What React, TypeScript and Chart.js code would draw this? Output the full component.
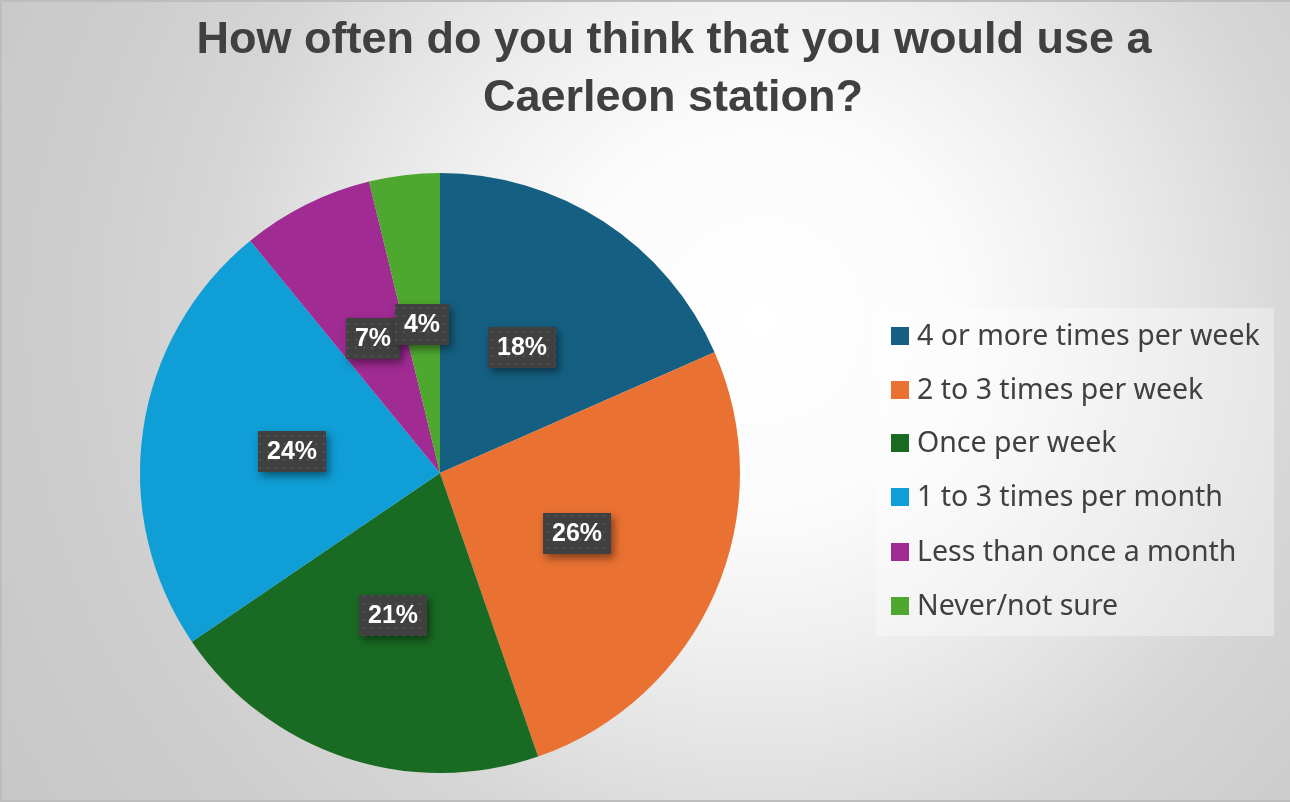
import React, { useEffect, useRef } from "react";
import { Chart, registerables } from "chart.js";

Chart.register(...registerables);

const TITLE_LINES = ["How often do you think that you would use a", "Caerleon station?"];
const CATEGORIES = [
  "4 or more times per week",
  "2 to 3 times per week",
  "Once per week",
  "1 to 3 times per month",
  "Less than once a month",
  "Never/not sure",
];
const VALUES = [18.4, 26.3, 20.8, 23.6, 7.1, 3.8];
const COLORS = ["#156082", "#E97132", "#196B24", "#0F9ED5", "#A02B93", "#4EA72E"];

const W = 1290;
const H = 802;
const TEXT_COLOR = "#404040";

function makePattern(ctx: CanvasRenderingContext2D) {
  const c = document.createElement("canvas");
  c.width = 8;
  c.height = 8;
  const p = c.getContext("2d")!;
  p.fillStyle = "#404040";
  p.fillRect(0, 0, 8, 8);
  p.fillStyle = "#525252";
  p.fillRect(3, 3, 2, 2);
  return ctx.createPattern(c, "repeat")!;
}

const decorPlugin = {
  id: "decor",
  beforeDraw(chart: any) {
    const ctx: CanvasRenderingContext2D = chart.ctx;
    ctx.save();
    const g = ctx.createRadialGradient(760, 320, 0, 760, 320, 900);
    g.addColorStop(0, "#ffffff");
    g.addColorStop(200 / 900, "#fbfbfb");
    g.addColorStop(330 / 900, "#efefef");
    g.addColorStop(430 / 900, "#e4e4e4");
    g.addColorStop(550 / 900, "#d6d6d6");
    g.addColorStop(700 / 900, "#cdcdcd");
    g.addColorStop(1, "#c7c7c7");
    ctx.fillStyle = g;
    ctx.fillRect(0, 0, W, H);
    ctx.restore();
  },
  afterDatasetsDraw(chart: any) {
    const ctx: CanvasRenderingContext2D = chart.ctx;
    const meta = chart.getDatasetMeta(0);
    const data: number[] = chart.data.datasets[0].data;
    const total = data.reduce((a, b) => a + b, 0);
    const pattern = makePattern(ctx);
    ctx.save();
    ctx.font = "bold 25px 'Liberation Sans', Arial, sans-serif";
    meta.data.forEach((arc: any, i: number) => {
      const { x, y } = arc.getCenterPoint();
      const txt = Math.round((data[i] / total) * 100) + "%";
      const tw = ctx.measureText(txt).width;
      const bw = Math.round(tw + 18);
      const bh = 41;
      const bx = Math.round(x - bw / 2);
      const by = Math.round(y - bh / 2);
      ctx.save();
      ctx.shadowColor = "rgba(0,0,0,0.45)";
      ctx.shadowBlur = 8;
      ctx.shadowOffsetX = 3;
      ctx.shadowOffsetY = 4;
      ctx.fillStyle = "#404040";
      ctx.fillRect(bx, by, bw, bh);
      ctx.restore();
      ctx.fillStyle = pattern;
      ctx.fillRect(bx, by, bw, bh);
      ctx.fillStyle = "#ffffff";
      ctx.textAlign = "center";
      ctx.textBaseline = "middle";
      ctx.fillText(txt, bx + bw / 2, by + bh / 2 + 1);
    });
    ctx.restore();
  },
  afterDraw(chart: any) {
    const ctx: CanvasRenderingContext2D = chart.ctx;
    ctx.save();
    // title
    ctx.fillStyle = TEXT_COLOR;
    ctx.font = "bold 45px 'Liberation Sans', Arial, sans-serif";
    ctx.textAlign = "center";
    ctx.textBaseline = "alphabetic";
    ctx.fillText(TITLE_LINES[0], 674, 53);
    ctx.fillText(TITLE_LINES[1], 673, 111);

    // legend
    ctx.fillStyle = "rgba(255,255,255,0.35)";
    ctx.fillRect(876, 308, 398, 328);
    ctx.font = "28.5px 'Noto Sans', sans-serif";
    ctx.textAlign = "left";
    ctx.textBaseline = "middle";
    const ys = [336, 390, 443, 497, 552, 606];
    CATEGORIES.forEach((c, i) => {
      ctx.fillStyle = COLORS[i];
      ctx.fillRect(891, ys[i] - 9, 18, 18);
      ctx.fillStyle = TEXT_COLOR;
      ctx.fillText(c, 917, ys[i] + 1);
    });

    // border
    ctx.strokeStyle = "#bdbdbd";
    ctx.lineWidth = 2;
    ctx.beginPath();
    ctx.moveTo(W, 1);
    ctx.lineTo(1, 1);
    ctx.lineTo(1, H - 1);
    ctx.lineTo(W, H - 1);
    ctx.stroke();
    ctx.restore();
  },
};

export default function App() {
  const ref = useRef<HTMLCanvasElement>(null);
  useEffect(() => {
    document.body.style.margin = "0";
    const chart = new Chart(ref.current!, {
      type: "pie",
      data: {
        labels: CATEGORIES,
        datasets: [
          {
            data: VALUES,
            backgroundColor: COLORS,
            borderWidth: 0,
          },
        ],
      },
      options: {
        responsive: false,
        animation: false,
        devicePixelRatio: 1,
        layout: { padding: { left: 140, top: 173, right: W - 740, bottom: H - 773 } },
        plugins: {
          legend: { display: false },
          title: { display: false },
          tooltip: { enabled: false },
        },
      },
      plugins: [decorPlugin],
    });
    return () => chart.destroy();
  }, []);
  return (
    <div style={{ width: W, height: H }}>
      <canvas ref={ref} width={W} height={H} style={{ display: "block" }} />
    </div>
  );
}
